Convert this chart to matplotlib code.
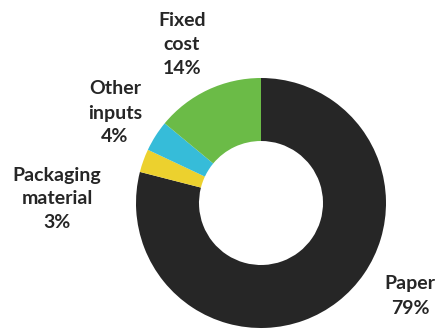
import matplotlib.pyplot as plt

categories = ["Paper", "Packaging\nmaterial", "Other\ninputs", "Fixed\ncost"]
shares = [79, 3, 4, 14]
colors = ["#262626", "#ecd12e", "#36bcd9", "#6bbb47"]

# label anchor points (pixels, measured from top-left)
label_xy = [(410, 296), (57, 199), (115, 113), (182, 44)]

W, H = 441, 332
fig = plt.figure(figsize=(W / 100, H / 100), dpi=100)
ax = fig.add_axes([0, 0, 1, 1])

ax.pie(shares, colors=colors, startangle=90, counterclock=False,
       center=(261, H - 203), radius=125,
       wedgeprops=dict(width=63, edgecolor="none"))
ax.set_xlim(0, W)
ax.set_ylim(0, H)
ax.set_aspect("equal")
ax.axis("off")

for name, val, (x, y) in zip(categories, shares, label_xy):
  ax.text(x, H - y, f"{name}\n{val}%", ha="center", va="center",
          fontsize=14, fontweight="bold", family="Lato", color="#262626",
          linespacing=1.5)

fig.savefig("out.png", dpi=100)
